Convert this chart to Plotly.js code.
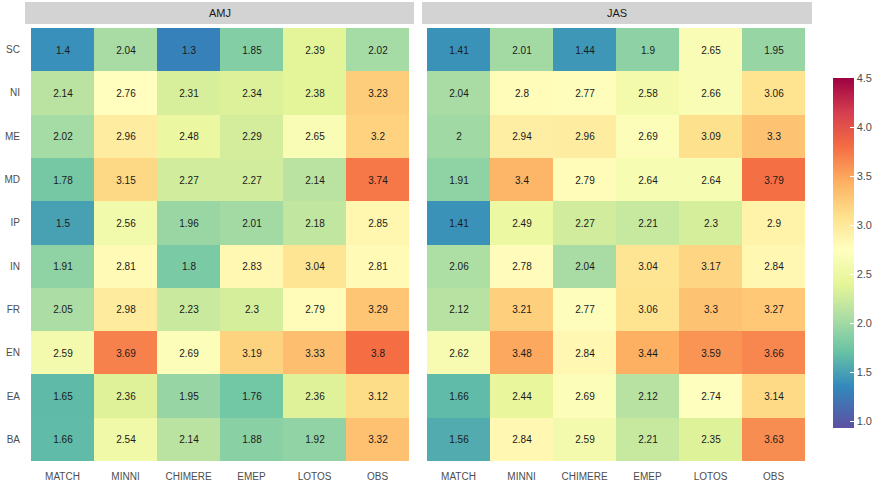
<!DOCTYPE html>
<html><head><meta charset="utf-8">
<script src="https://cdn.plot.ly/plotly-3.0.1.min.js"></script>
<style>html,body{margin:0;padding:0;background:#fff}#chart{width:886px;height:490px}</style>
</head><body><div id="chart"></div>
<script>
const models = ["MATCH","MINNI","CHIMERE","EMEP","LOTOS","OBS"];
const regions = ["SC","NI","ME","MD","IP","IN","FR","EN","EA","BA"];
const panels = ["AMJ","JAS"];
const amj = [
  [1.4, 2.04, 1.3, 1.85, 2.39, 2.02],
  [2.14, 2.76, 2.31, 2.34, 2.38, 3.23],
  [2.02, 2.96, 2.48, 2.29, 2.65, 3.2],
  [1.78, 3.15, 2.27, 2.27, 2.14, 3.74],
  [1.5, 2.56, 1.96, 2.01, 2.18, 2.85],
  [1.91, 2.81, 1.8, 2.83, 3.04, 2.81],
  [2.05, 2.98, 2.23, 2.3, 2.79, 3.29],
  [2.59, 3.69, 2.69, 3.19, 3.33, 3.8],
  [1.65, 2.36, 1.95, 1.76, 2.36, 3.12],
  [1.66, 2.54, 2.14, 1.88, 1.92, 3.32]
];
const jas = [
  [1.41, 2.01, 1.44, 1.9, 2.65, 1.95],
  [2.04, 2.8, 2.77, 2.58, 2.66, 3.06],
  [2, 2.94, 2.96, 2.69, 3.09, 3.3],
  [1.91, 3.4, 2.79, 2.64, 2.64, 3.79],
  [1.41, 2.49, 2.27, 2.21, 2.3, 2.9],
  [2.06, 2.78, 2.04, 3.04, 3.17, 2.84],
  [2.12, 3.21, 2.77, 3.06, 3.3, 3.27],
  [2.62, 3.48, 2.84, 3.44, 3.59, 3.66],
  [1.66, 2.44, 2.69, 2.12, 2.74, 3.14],
  [1.56, 2.84, 2.59, 2.21, 2.35, 3.63]
];
const spectral = ["#5e4fa2","#3288bd","#66c2a5","#abdda4","#e6f598","#ffffbf","#fee08b","#fdae61","#f46d43","#d53e4f","#9e0142"];
const zmin = 0.93, zmax = 4.5;
// colour anchors: purple at the bottom, then evenly every 0.35 from 1.0 upward
const cs = spectral.map((c,i)=>[i===0 ? 0 : ((1.0 + 0.35*i) - zmin)/(zmax - zmin), c]);
cs[cs.length-1][0] = 1;

function trace(z, xa, showscale){
  return {
    type:"heatmap", x: models, y: regions, z: z, xaxis: xa, yaxis:"y",
    colorscale: cs, zmin: zmin, zmax: zmax, showscale: showscale,
    text: z.map(r=>r.map(v=>String(v))), texttemplate:"%{text}",
    textfont:{family:"Liberation Sans, Arial, sans-serif", size:10, color:"#1a1a1a"},
    hoverinfo:"x+y+z",
    colorbar:{x:833/886, xanchor:"left", y:1-253/490, yanchor:"middle", len:350/490, lenmode:"fraction",
      thickness:21, outlinewidth:0, tickvals:[1,1.5,2,2.5,3,3.5,4,4.5], ticktext:["1.0","1.5","2.0","2.5","3.0","3.5","4.0","4.5"],
      ticks:"inside", ticklen:4, tickcolor:"#ffffff", tickwidth:1,
      tickfont:{family:"Liberation Sans, Arial, sans-serif", size:11, color:"#4d4d4d"}, xpad:0, ypad:0}
  };
}
const axFont = {family:"Liberation Sans, Arial, sans-serif", size:10, color:"#4d4d4d"};
const yd = [1-461/490, 1-28/490];
const layout = {
  width:886, height:490, margin:{l:0,r:0,t:0,b:0}, paper_bgcolor:"#fff", plot_bgcolor:"#fff",
  xaxis:{domain:[31/886, 409/886], anchor:"y", showgrid:false, zeroline:false, ticks:"", tickfont:axFont, ticklabelstandoff:8, automargin:false},
  xaxis2:{domain:[427/886, 805/886], anchor:"y", showgrid:false, zeroline:false, ticks:"", tickfont:axFont, ticklabelstandoff:8, automargin:false},
  yaxis:{domain:yd, autorange:"reversed", showgrid:false, zeroline:false, ticks:"", tickfont:axFont, ticklabelstandoff:10, automargin:false},
  shapes:[
    {type:"rect", xref:"paper", yref:"paper", x0:25/886, x1:414/886, y0:1-24/490, y1:1-2/490, fillcolor:"#d3d3d3", line:{width:0}, layer:"below"},
    {type:"rect", xref:"paper", yref:"paper", x0:422/886, x1:812/886, y0:1-24/490, y1:1-2/490, fillcolor:"#d3d3d3", line:{width:0}, layer:"below"}
  ],
  annotations:[
    {xref:"paper", yref:"paper", x:(25+414)/2/886, y:1-13/490, text:panels[0], showarrow:false, xanchor:"center", yanchor:"middle", font:{family:"Liberation Sans, Arial, sans-serif", size:11, color:"#1a1a1a"}},
    {xref:"paper", yref:"paper", x:(422+812)/2/886, y:1-13/490, text:panels[1], showarrow:false, xanchor:"center", yanchor:"middle", font:{family:"Liberation Sans, Arial, sans-serif", size:11, color:"#1a1a1a"}}
  ],
  showlegend:false
};
Plotly.newPlot("chart", [trace(amj,"x",false), trace(jas,"x2",true)], layout, {displayModeBar:false, staticPlot:true});
</script></body></html>
